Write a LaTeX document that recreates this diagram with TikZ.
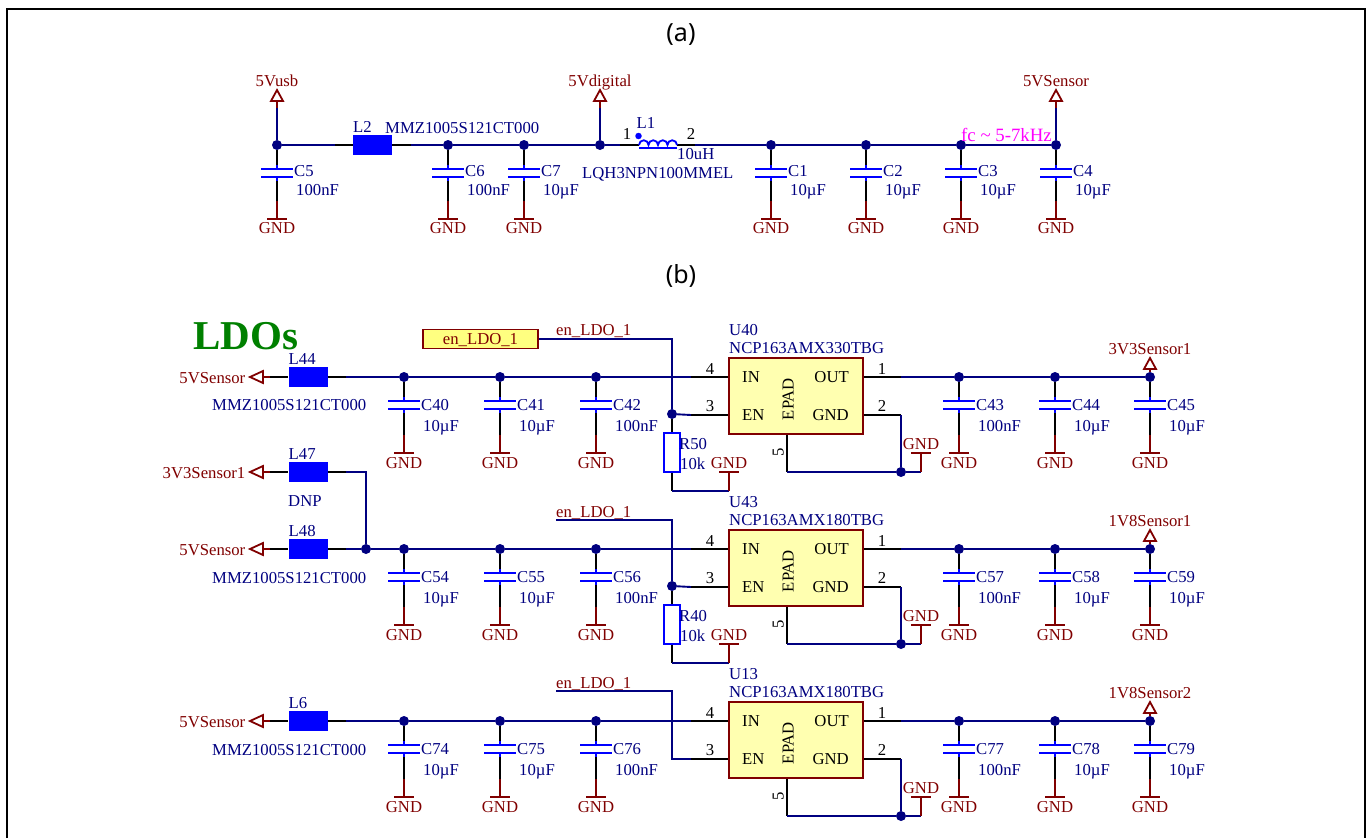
\documentclass[tikz,border=0pt]{standalone}
\usepackage{fontspec}
\setmainfont{Liberation Serif}
\newfontfamily\capfont{Noto Sans}
\usetikzlibrary{calc}
\usetikzlibrary{positioning}
\definecolor{netnavy}{HTML}{000080}
\definecolor{netred}{HTML}{800000}
\definecolor{partblue}{HTML}{0000FF}
\definecolor{partyellow}{HTML}{FFFFB0}
\definecolor{portyellow}{HTML}{FFFF80}
\definecolor{notepink}{HTML}{FF00FF}
\tikzset{
  wire/.style={draw=netnavy,line width=1.9pt},
  pinline/.style={draw=black,line width=1.7pt},
  railred/.style={draw=netred,line width=1.8pt},
  capplate/.style={draw=partblue,line width=1.8pt},
  junction/.style={circle,fill=netnavy,inner sep=0pt,minimum size=10pt},
  ferrite/.style={fill=partblue,inner sep=0pt,minimum width=39pt,minimum height=20pt},
  basetext/.style={inner sep=0pt,text height=11pt,text depth=0pt,font=\fontsize{16.7}{18}\selectfont},
  reftext/.style={basetext,text=netnavy},
  nettext/.style={basetext,text=netred},
  pintext/.style={basetext,text=black},
  ldobox/.style={draw=netred,fill=partyellow,line width=1.6pt,minimum width=134pt,minimum height=76pt,inner sep=0pt},
  portbox/.style={draw=netred,fill=portyellow,line width=1.6pt,minimum width=115pt,minimum height=19pt,inner sep=0pt,basetext,text=netred},
  resbox/.style={draw=partblue,line width=1.8pt,minimum width=16pt,minimum height=39pt,inner sep=0pt},
  captext/.style={inner sep=0pt,font=\capfont\fontsize{25}{27}\selectfont}
}
\newcommand{\capscale}[4]{\def\gnddrop{#1}\def\gndtxt{#2}\def\capref{#3}\def\capval{#4}}
\newcommand{\gndsym}[3]{%
  \coordinate (#1-f) at (#2,#3);
  \draw[railred] ([xshift=-10pt]#1-f) -- ([xshift=10pt]#1-f);
}
\newcommand{\capleg}[4]{%
  \node[junction] (#1) at (#2,#3) {};
  \coordinate (#1-a) at (#2,#3+20);
  \coordinate (#1-b) at (#2,#3+24);
  \coordinate (#1-c) at (#2,#3+32);
  \coordinate (#1-d) at (#2,#3+36);
  \coordinate (#1-e) at (#2,#3+\gnddrop-18);
  \gndsym{#1}{#2}{#3+\gnddrop}
  \draw[pinline] (#1) -- (#1-a);
  \draw[capplate] (#1-a) -- (#1-b);
  \draw[capplate] (#1-c) -- (#1-d);
  \draw[capplate] ([xshift=-16pt]#1-b) -- ([xshift=16pt]#1-b);
  \draw[capplate] ([xshift=-16pt]#1-c) -- ([xshift=16pt]#1-c);
  \draw[pinline] (#1-d) -- (#1-e);
  \draw[railred] (#1-e) -- (#1-f);
  \node[nettext] (#1-g) at (#2,#3+\gndtxt) {GND};
  \node[reftext,anchor=west] (#1-r) at (#2+17,#3+\capref) {#1};
  \node[reftext,anchor=west] (#1-v) at (#2+19,#3+\capval) {#4};
}
\newcommand{\ferritebead}[4]{%
  \node[ferrite] (#1) at (#2,#3) {};
  \coordinate (#1-w) at (#2-38,#3);
  \coordinate (#1-e) at (#2+38,#3);
  \draw[pinline] (#1-w) -- (#1);
  \draw[pinline] (#1) -- (#1-e);
  \node[reftext,anchor=west] (#1-r) at (#2-19.5,#3-18.5) {#4};
}
\newcommand{\powerup}[4]{%
  \coordinate (#1-t) at (#2,#3);
  \coordinate (#1-b) at (#2,#3+11);
  \draw[railred,line join=miter] (#1-t) -- ([xshift=-6pt]#1-b) -- ([xshift=6pt]#1-b) -- cycle;
  \node[nettext] (#1-l) at (#2,#3-9.5) {#4};
}
\newcommand{\portleft}[4]{%
  \coordinate (#1-t) at (250,#2);
  \coordinate (#1-b) at (263,#2);
  \coordinate (#1-k) at (270,#2);
  \draw[railred,line join=miter] (#1-t) -- ([yshift=6pt]#1-b) -- ([yshift=-6pt]#1-b) -- cycle;
  \draw[railred] (#1-b) -- (#1-k);
  \draw[pinline] (#1-k) -- (#3-w);
  \node[nettext,anchor=east] (#1-l) at (245.5,#2+1) {#4};
}
\newcommand{\ldochip}[3]{%
  \node[ldobox] (#1) at (796,#2+19) {};
  \coordinate (#1-in) at (691,#2);
  \coordinate (#1-en) at (691,#2+38);
  \coordinate (#1-out) at (901,#2);
  \coordinate (#1-gnd) at (901,#2+38);
  \coordinate (#1-pad) at (787,#2+95);
  \draw[pinline] (#1-in) -- (#1.west|-#1-in);
  \draw[pinline] (#1-en) -- (#1.west|-#1-en);
  \draw[pinline] (#1.east|-#1-out) -- (#1-out);
  \draw[pinline] (#1.east|-#1-gnd) -- (#1-gnd);
  \draw[pinline] (#1.south-|#1-pad) -- (#1-pad);
  \node[junction] (#1-j) at (901,#2+95) {};
  \coordinate (#1-k) at (921,#2+95);
  \gndsym{#1}{921}{#2+76}
  \draw[wire] (#1-gnd) -- (#1-j);
  \draw[wire] (#1-pad) -- (#1-j);
  \draw[wire] (#1-j) -- (#1-k);
  \draw[railred] (#1-k) -- (#1-f);
  \node[nettext] (#1-g) at (921,#2+67) {GND};
  \node[pintext] (#1-p4) at (710,#2-8) {4};
  \node[pintext] (#1-p3) at (710,#2+29) {3};
  \node[pintext] (#1-p1) at (882,#2-8) {1};
  \node[pintext] (#1-p2) at (882,#2+29) {2};
  \node[pintext,rotate=90] (#1-p5) at (778,#2+75) {5};
  \node[pintext,anchor=west] (#1-tin) at (742,#2) {IN};
  \node[pintext,anchor=west] (#1-ten) at (742,#2+38) {EN};
  \node[pintext,anchor=east] (#1-tout) at (849,#2) {OUT};
  \node[pintext,anchor=east] (#1-tgnd) at (849,#2+38) {GND};
  \node[pintext,rotate=90] (#1-tpad) at (788,#2+22) {EPAD};
  \node[reftext,anchor=west] (#1-r) at (729,#2-47) {#1};
  \node[reftext,anchor=west] (#1-v) at (729,#2-29) {#3};
}
\newcommand{\pullres}[3]{%
  \node[junction] (#1-j) at (672,#2) {};
  \node[resbox] (#1) at (672,#2+38.5) {};
  \coordinate (#1-k) at (672,#2+77);
  \coordinate (#1-m) at (729,#2+77);
  \gndsym{#1}{729}{#2+58}
  \draw[pinline] (#1-j) -- (#1);
  \draw[pinline] (#1) -- (#1-k);
  \draw[wire] (#1-k) -- (#1-m);
  \draw[railred] (#1-m) -- (#1-f);
  \node[nettext] (#1-g) at (729,#2+49) {GND};
  \node[reftext,anchor=west] (#1-r) at (679,#2+30) {#1};
  \node[reftext,anchor=west] (#1-v) at (680,#2+50) {#3};
}
\begin{document}
\begin{tikzpicture}[x=1pt,y=-1pt]
  \useasboundingbox (0,0) rectangle (1370,838);
  \draw[line width=2pt] (7,838) -- (7,9) -- (1365,9) -- (1365,838);
  \node[captext] (capA) at (681,35) {(a)};
  \node[captext] (capB) at (681,276) {(b)};

  \capscale{74}{83}{26}{45}
  \foreach \n/\cx/\cv in {C5/277/100nF,C6/448/100nF,C7/524/10µF,C1/771/10µF,C2/866/10µF,C3/961/10µF,C4/1056/10µF}
    {\capleg{\n}{\cx}{145}{\cv}}
  \ferritebead{L2}{372.5}{145}{L2}
  \node[reftext,anchor=west] (L2-v) at (385,127.5) {MMZ1005S121CT000};
  \node[junction] (Jdig) at (600,145) {};
  \powerup{Pusb}{277}{90}{5Vusb}
  \powerup{Pdig}{600}{90}{5Vdigital}
  \powerup{Psens}{1056}{90}{5VSensor}
  \foreach \p/\j in {Pusb/C5,Pdig/Jdig,Psens/C4}{
    \draw[railred] (\p-b) -- ++(0,7) coordinate (\p-k);
    \draw[wire] (\p-k) -- (\j);
  }
  \coordinate (L1-a) at (620,145);
  \coordinate (L1-w) at (639,145);
  \coordinate (L1-e) at (677,145);
  \coordinate (L1-b) at (695,145);
  \draw[pinline] (L1-a) -- (L1-w);
  \draw[pinline] (L1-e) -- (L1-b);
  \draw[capplate] (L1-w) arc[start angle=180,end angle=0,radius=4.75pt]
    arc[start angle=180,end angle=0,radius=4.75pt]
    arc[start angle=180,end angle=0,radius=4.75pt]
    arc[start angle=180,end angle=0,radius=4.75pt];
  \draw[capplate] ([yshift=-3pt]L1-w) -- ([yshift=-3pt]L1-e);
  \node[circle,fill=partblue,inner sep=0pt,minimum size=6.5pt] (L1-d) at (638.5,136) {};
  \node[pintext] (L1-p1) at (627,134) {1};
  \node[pintext] (L1-p2) at (691,134) {2};
  \node[reftext,anchor=west] (L1-r) at (636.5,122.5) {L1};
  \node[reftext,anchor=west] (L1-v) at (677,154) {10uH};
  \node[reftext,anchor=west] (L1-m) at (582,173) {LQH3NPN100MMEL};
  \draw[wire] (C5) -- (L2-w);
  \draw[wire] (L2-e) -- (C6) -- (C7) -- (Jdig) -- (L1-a);
  \draw[wire] (L1-b) -- (C1) -- (C2) -- (C3) -- (C4);
  \node[basetext,text=notepink,anchor=west,font=\fontsize{18.8}{20}\selectfont] (fcnote) at (961,135.5) {fc \textasciitilde{} 5-7kHz};

  \node[anchor=west,inner sep=0pt,text=green!50!black,font=\bfseries\fontsize{41}{43}\selectfont] (ldotitle) at (193,336) {LDOs};
  \node[portbox] (enport) at (480.5,339) {en\_LDO\_1};
  \capscale{76}{86}{28}{49}
  \foreach \n/\cx/\cv in {C40/404/10µF,C41/500/10µF,C42/596/100nF,C43/959/100nF,C44/1055/10µF,C45/1150/10µF}
    {\capleg{\n}{\cx}{377}{\cv}}
  \foreach \n/\cx/\cv in {C54/404/10µF,C55/500/10µF,C56/596/100nF,C57/959/100nF,C58/1055/10µF,C59/1150/10µF}
    {\capleg{\n}{\cx}{549}{\cv}}
  \foreach \n/\cx/\cv in {C74/404/10µF,C75/500/10µF,C76/596/100nF,C77/959/100nF,C78/1055/10µF,C79/1150/10µF}
    {\capleg{\n}{\cx}{721}{\cv}}

  \ferritebead{L44}{308}{377}{L44}
  \ferritebead{L47}{308}{472}{L47}
  \ferritebead{L48}{308}{549}{L48}
  \ferritebead{L6}{308}{721}{L6}
  \portleft{P44}{377}{L44}{5VSensor}
  \portleft{P47}{472}{L47}{3V3Sensor1}
  \portleft{P48}{549}{L48}{5VSensor}
  \portleft{P6}{721}{L6}{5VSensor}
  \node[reftext,anchor=west] (L44-v) at (212,405) {MMZ1005S121CT000};
  \node[reftext,anchor=west] (L47-v) at (288,501) {DNP};
  \node[reftext,anchor=west] (L48-v) at (212,578) {MMZ1005S121CT000};
  \node[reftext,anchor=west] (L6-v) at (212,750) {MMZ1005S121CT000};
  \node[junction] (J48) at (366,549) {};

  \ldochip{U40}{377}{NCP163AMX330TBG}
  \ldochip{U43}{549}{NCP163AMX180TBG}
  \ldochip{U13}{721}{NCP163AMX180TBG}
  \pullres{R50}{414}{10k}
  \pullres{R40}{586}{10k}

  \coordinate (en2) at (556,520);
  \coordinate (en3) at (556,691);
  \coordinate (en3-c) at (672,691);
  \node[nettext,anchor=west] (en1-l) at (556,330) {en\_LDO\_1};
  \node[nettext,anchor=west] (en2-l) at (556,512) {en\_LDO\_1};
  \node[nettext,anchor=west] (en3-l) at (556,683) {en\_LDO\_1};
  \draw[wire] (enport.east) -| (R50-j);
  \draw[wire] (R50-j) -- (U40-en);
  \draw[wire] (en2) -| (R40-j);
  \draw[wire] (R40-j) -- (U43-en);
  \draw[wire] (en3) -- (en3-c) |- (U13-en);

  \draw[wire] (L44-e) -- (C40) -- (C41) -- (C42) -- (U40-in);
  \draw[wire] (U40-out) -- (C43) -- (C44) -- (C45);
  \draw[wire] (L47-e) -| (J48);
  \draw[wire] (L48-e) -- (J48) -- (C54) -- (C55) -- (C56) -- (U43-in);
  \draw[wire] (U43-out) -- (C57) -- (C58) -- (C59);
  \draw[wire] (L6-e) -- (C74) -- (C75) -- (C76) -- (U13-in);
  \draw[wire] (U13-out) -- (C77) -- (C78) -- (C79);

  \powerup{P3V3}{1150}{358}{3V3Sensor1}
  \powerup{P1V8a}{1150}{530}{1V8Sensor1}
  \powerup{P1V8b}{1150}{702}{1V8Sensor2}
  \draw[railred] (P3V3-b) -- (C45);
  \draw[railred] (P1V8a-b) -- (C59);
  \draw[railred] (P1V8b-b) -- (C79);
\end{tikzpicture}
\end{document}
